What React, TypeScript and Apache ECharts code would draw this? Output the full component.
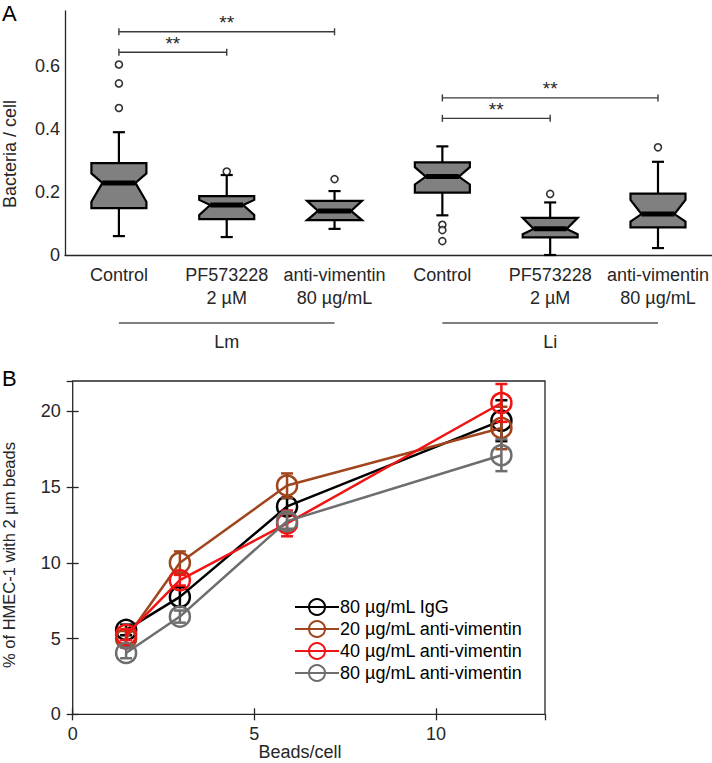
import React, { useEffect, useRef } from "react";
import * as echarts from "echarts";

// ---------- Panel A data ----------
const catLabels = [
  "Control",
  "PF573228\n2 µM",
  "anti-vimentin\n80 µg/mL",
  "Control",
  "PF573228\n2 µM",
  "anti-vimentin\n80 µg/mL",
];
const boxLow = [0.06, 0.057, 0.083, 0.126, 0.0, 0.022];
const boxQ1 = [0.149, 0.114, 0.111, 0.198, 0.056, 0.088];
const boxMedian = [0.229, 0.159, 0.14, 0.249, 0.083, 0.13];
const boxQ3 = [0.292, 0.187, 0.172, 0.294, 0.118, 0.195];
const boxHigh = [0.39, 0.254, 0.203, 0.345, 0.167, 0.296];
const notchLow = [0.169, 0.127, 0.111, 0.224, 0.066, 0.106];
const notchHigh = [0.259, 0.175, 0.172, 0.279, 0.118, 0.175];
const outliers = [
  [0.605, 0.545, 0.467],
  [0.265],
  [0.241],
  [0.096, 0.079, 0.044],
  [0.194],
  [0.342],
];
const sigStart = [0, 0, 3, 3];
const sigEnd = [1, 2, 4, 5];
const sigY = [0.644, 0.709, 0.434, 0.499];
const sigLabel = ["**", "**", "**", "**"];
const groupNames = ["Lm", "Li"];
const groupStart = [0, 3];
const groupEnd = [2, 5];

// ---------- Panel B data ----------
const beadsPerCell = [1.47, 2.95, 5.9, 11.8];
const seriesNames = [
  "80 µg/mL IgG",
  "20 µg/mL anti-vimentin",
  "40 µg/mL anti-vimentin",
  "80 µg/mL anti-vimentin",
];
const seriesColors = ["#000000", "#a0461e", "#f01414", "#6e6e6e"];
const igg80 = [5.57, 7.75, 13.72, 19.38];
const igg80Err = [0.35, 0.65, 0.55, 1.35];
const antiVim20 = [5.0, 10.0, 15.1, 18.9];
const antiVim20Err = [0.5, 0.75, 0.8, 1.4];
const antiVim40 = [5.25, 8.85, 12.6, 20.55];
const antiVim40Err = [0.35, 0.35, 0.85, 1.25];
const antiVim80 = [4.05, 6.45, 12.75, 17.1];
const antiVim80Err = [0.35, 0.4, 0.5, 1.05];
const seriesMeans = [igg80, antiVim20, antiVim40, antiVim80];
const seriesErrs = [igg80Err, antiVim20Err, antiVim40Err, antiVim80Err];

const FONT = "Liberation Sans, Arial, Helvetica, sans-serif";
const AXIS_COLOR = "#262626";

export default function App() {
  const ref = useRef<HTMLDivElement>(null);

  useEffect(() => {
    if (!ref.current) return;
    const chart = echarts.init(ref.current, undefined, {
      renderer: "svg",
      width: 712,
      height: 763,
    });

    const boxData = catLabels.map((_, i) => [
      i,
      boxLow[i],
      boxQ1[i],
      boxMedian[i],
      boxQ3[i],
      boxHigh[i],
      notchLow[i],
      notchHigh[i],
    ]);

    const outlierData: number[][] = [];
    outliers.forEach((arr, i) => arr.forEach((v) => outlierData.push([i, v])));

    const lineSeries: any[] = [];
    seriesNames.forEach((name, s) => {
      const c = seriesColors[s];
      lineSeries.push({
        type: "line",
        name,
        xAxisIndex: 1,
        yAxisIndex: 1,
        data: beadsPerCell.map((x, k) => [x, seriesMeans[s][k]]),
        symbol: "circle",
        symbolSize: 20,
        lineStyle: { color: c, width: 2.5 },
        itemStyle: { color: "rgba(255,255,255,0)", borderColor: c, borderWidth: 2.5 },
        z: 3 + s,
      });
      lineSeries.push({
        type: "custom",
        name: name + " err",
        xAxisIndex: 1,
        yAxisIndex: 1,
        data: beadsPerCell.map((x, k) => [x, seriesMeans[s][k], seriesErrs[s][k]]),
        encode: { x: 0, y: 1 },
        z: 3 + s,
        renderItem: (params: any, api: any) => {
          const x = api.value(0);
          const m = api.value(1);
          const e = api.value(2);
          const top = api.coord([x, m + e]);
          const bot = api.coord([x, m - e]);
          const cap = 6;
          const st = { stroke: c, lineWidth: 2.5 };
          return {
            type: "group",
            children: [
              { type: "line", shape: { x1: top[0], y1: top[1], x2: bot[0], y2: bot[1] }, style: st },
              { type: "line", shape: { x1: top[0] - cap, y1: top[1], x2: top[0] + cap, y2: top[1] }, style: st },
              { type: "line", shape: { x1: bot[0] - cap, y1: bot[1], x2: bot[0] + cap, y2: bot[1] }, style: st },
            ],
          };
        },
      });
    });

    const option: any = {
      animation: false,
      textStyle: { fontFamily: FONT },
      grid: [
        { left: 65, top: 11, width: 647, height: 244, containLabel: false },
        {
          left: 72.7,
          top: 381,
          width: 472.3,
          height: 333.3,
          show: true,
          borderColor: AXIS_COLOR,
          borderWidth: 1.3,
          backgroundColor: "transparent",
        },
      ],
      legend: {
        data: seriesNames,
        orient: "vertical",
        left: 289,
        top: 593,
        itemWidth: 44,
        itemHeight: 20,
        itemGap: 4,
        textStyle: { fontSize: 18, color: "#000", fontFamily: FONT, padding: [0, 0, 0, -4] },
        selectedMode: false,
      },
      xAxis: [
        {
          gridIndex: 0,
          type: "category",
          data: catLabels.map((_, i) => "c" + i),
          axisLine: { lineStyle: { color: AXIS_COLOR, width: 1.3 } },
          axisTick: { inside: true, length: 8, alignWithLabel: true, lineStyle: { color: AXIS_COLOR, width: 1.3 } },
          axisLabel: {
            interval: 0,
            formatter: (_v: any, i: number) => catLabels[i],
            fontSize: 18,
            lineHeight: 23,
            color: AXIS_COLOR,
            margin: 8,
            fontFamily: FONT,
          },
        },
        {
          gridIndex: 1,
          type: "value",
          min: 0,
          max: 13,
          interval: 5,
          axisLine: { show: false },
          splitLine: { show: false },
          axisTick: { inside: true, length: 6, lineStyle: { color: AXIS_COLOR, width: 1.3 } },
          axisLabel: { fontSize: 18, color: AXIS_COLOR, margin: 11, showMaxLabel: false, fontFamily: FONT },
        },
        {
          gridIndex: 1,
          type: "value",
          position: "top",
          min: 0,
          max: 13,
          interval: 5,
          axisLine: { show: false },
          splitLine: { show: false },
          axisTick: { inside: true, length: 6, lineStyle: { color: AXIS_COLOR, width: 1.3 } },
          axisLabel: { show: false },
        },
      ],
      yAxis: [
        {
          gridIndex: 0,
          type: "value",
          min: 0,
          max: 0.775,
          interval: 0.2,
          axisLine: { show: true, lineStyle: { color: AXIS_COLOR, width: 1.3 } },
          axisTick: { show: false },
          splitLine: { show: false },
          axisLabel: {
            fontSize: 18,
            color: AXIS_COLOR,
            margin: 5,
            showMaxLabel: false,
            fontFamily: FONT,
            formatter: (v: number) => (v === 0 ? "0" : v.toFixed(1)),
          },
        },
        {
          gridIndex: 1,
          type: "value",
          min: 0,
          max: 22,
          interval: 5,
          axisLine: { show: false },
          splitLine: { show: false },
          axisTick: { inside: true, length: 6, lineStyle: { color: AXIS_COLOR, width: 1.3 } },
          axisLabel: { fontSize: 18, color: AXIS_COLOR, margin: 12, showMaxLabel: false, fontFamily: FONT },
        },
        {
          gridIndex: 1,
          type: "value",
          position: "right",
          min: 0,
          max: 22,
          interval: 5,
          axisLine: { show: false },
          splitLine: { show: false },
          axisTick: { inside: true, length: 6, lineStyle: { color: AXIS_COLOR, width: 1.3 } },
          axisLabel: { show: false },
        },
      ],
      graphic: [
        {
          type: "text",
          x: 2,
          y: 13,
          style: {
            text: "A",
            fontSize: 22,
            fontFamily: FONT,
            fill: "#000",
            align: "left",
            verticalAlign: "middle",
            textAlign: "left",
            textVerticalAlign: "middle",
          },
        },
        {
          type: "text",
          x: 2,
          y: 378,
          style: {
            text: "B",
            fontSize: 22,
            fontFamily: FONT,
            fill: "#000",
            align: "left",
            verticalAlign: "middle",
            textAlign: "left",
            textVerticalAlign: "middle",
          },
        },
        {
          type: "text",
          x: 10,
          y: 154,
          rotation: Math.PI / 2,
          style: {
            text: "Bacteria / cell",
            fontSize: 18,
            fontFamily: FONT,
            fill: AXIS_COLOR,
            align: "center",
            verticalAlign: "middle",
            textAlign: "center",
            textVerticalAlign: "middle",
          },
        },
        {
          type: "text",
          x: 9,
          y: 555,
          rotation: Math.PI / 2,
          style: {
            text: "% of HMEC-1 with 2 µm beads",
            fontSize: 16.5,
            fontFamily: FONT,
            fill: AXIS_COLOR,
            align: "center",
            verticalAlign: "middle",
            textAlign: "center",
            textVerticalAlign: "middle",
          },
        },
        {
          type: "text",
          x: 300,
          y: 752,
          style: {
            text: "Beads/cell",
            fontSize: 18,
            fontFamily: FONT,
            fill: AXIS_COLOR,
            align: "center",
            verticalAlign: "middle",
            textAlign: "center",
            textVerticalAlign: "middle",
          },
        },
      ],
      series: [
        {
          type: "custom",
          name: "boxes",
          xAxisIndex: 0,
          yAxisIndex: 0,
          data: boxData,
          encode: { x: 0, y: [1, 2, 3, 4, 5] },
          z: 2,
          renderItem: (params: any, api: any) => {
            const i = api.value(0);
            const xc = api.coord([i, 0])[0];
            const bw = api.size([1, 0])[0];
            const half = bw * 0.255;
            const nh = half * 0.6;
            const capHalf = bw * 0.056;
            const y = (v: number) => api.coord([i, v])[1];
            const yLow = y(api.value(1));
            const yQ1 = y(api.value(2));
            const yMed = y(api.value(3));
            const yQ3 = y(api.value(4));
            const yHigh = y(api.value(5));
            const yNL = y(api.value(6));
            const yNH = y(api.value(7));
            const st = { stroke: "#000", lineWidth: 2.2 };
            return {
              type: "group",
              children: [
                { type: "line", shape: { x1: xc, y1: yQ3, x2: xc, y2: yHigh }, style: st },
                { type: "line", shape: { x1: xc, y1: yQ1, x2: xc, y2: yLow }, style: st },
                { type: "line", shape: { x1: xc - capHalf, y1: yHigh, x2: xc + capHalf, y2: yHigh }, style: st },
                { type: "line", shape: { x1: xc - capHalf, y1: yLow, x2: xc + capHalf, y2: yLow }, style: st },
                {
                  type: "polygon",
                  shape: {
                    points: [
                      [xc - half, yQ3],
                      [xc + half, yQ3],
                      [xc + half, yNH],
                      [xc + nh, yMed],
                      [xc + half, yNL],
                      [xc + half, yQ1],
                      [xc - half, yQ1],
                      [xc - half, yNL],
                      [xc - nh, yMed],
                      [xc - half, yNH],
                    ],
                  },
                  style: { fill: "#808080", stroke: "#000", lineWidth: 2.2, lineJoin: "miter" },
                },
                { type: "line", shape: { x1: xc - nh, y1: yMed, x2: xc + nh, y2: yMed }, style: { stroke: "#000", lineWidth: 5 } },
              ],
            };
          },
        },
        {
          type: "scatter",
          name: "outliers",
          xAxisIndex: 0,
          yAxisIndex: 0,
          data: outlierData,
          symbol: "circle",
          symbolSize: 7,
          itemStyle: { color: "#fff", borderColor: "#000", borderWidth: 1.6 },
          z: 3,
        },
        {
          type: "custom",
          name: "significance",
          xAxisIndex: 0,
          yAxisIndex: 0,
          data: sigStart.map((s, k) => [s, sigEnd[k], sigY[k]]),
          encode: { x: [0, 1], y: 2 },
          clip: false,
          z: 3,
          renderItem: (params: any, api: any) => {
            const p1 = api.coord([api.value(0), api.value(2)]);
            const p2 = api.coord([api.value(1), api.value(2)]);
            const st = { stroke: "#3a3a3a", lineWidth: 1.4 };
            return {
              type: "group",
              children: [
                { type: "line", shape: { x1: p1[0], y1: p1[1], x2: p2[0], y2: p2[1] }, style: st },
                { type: "line", shape: { x1: p1[0], y1: p1[1] - 3.5, x2: p1[0], y2: p1[1] + 3.5 }, style: st },
                { type: "line", shape: { x1: p2[0], y1: p2[1] - 3.5, x2: p2[0], y2: p2[1] + 3.5 }, style: st },
                {
                  type: "text",
                  x: (p1[0] + p2[0]) / 2,
                  y: p1[1] - 9,
                  style: {
                    text: sigLabel[params.dataIndex],
                    fontSize: 19,
                    fontFamily: FONT,
                    fill: "#262626",
                    align: "center",
                    verticalAlign: "middle",
                  },
                },
              ],
            };
          },
        },
        {
          type: "custom",
          name: "groups",
          xAxisIndex: 0,
          yAxisIndex: 0,
          data: groupStart.map((s, k) => [s, groupEnd[k], 0]),
          encode: { x: [0, 1], y: 2 },
          clip: false,
          renderItem: (params: any, api: any) => {
            const p1 = api.coord([api.value(0), 0]);
            const p2 = api.coord([api.value(1), 0]);
            const yl = p1[1] + 68;
            return {
              type: "group",
              children: [
                { type: "line", shape: { x1: p1[0], y1: yl, x2: p2[0], y2: yl }, style: { stroke: "#555", lineWidth: 1.5 } },
                {
                  type: "text",
                  x: (p1[0] + p2[0]) / 2,
                  y: yl + 19,
                  style: {
                    text: groupNames[params.dataIndex],
                    fontSize: 18,
                    fontFamily: FONT,
                    fill: "#262626",
                    align: "center",
                    verticalAlign: "middle",
                  },
                },
              ],
            };
          },
        },
        ...lineSeries,
      ],
    };

    chart.setOption(option);
    return () => chart.dispose();
  }, []);

  return (
    <div
      ref={ref}
      style={{ position: "absolute", left: 0, top: 0, width: 712, height: 763, background: "#fff" }}
    />
  );
}
